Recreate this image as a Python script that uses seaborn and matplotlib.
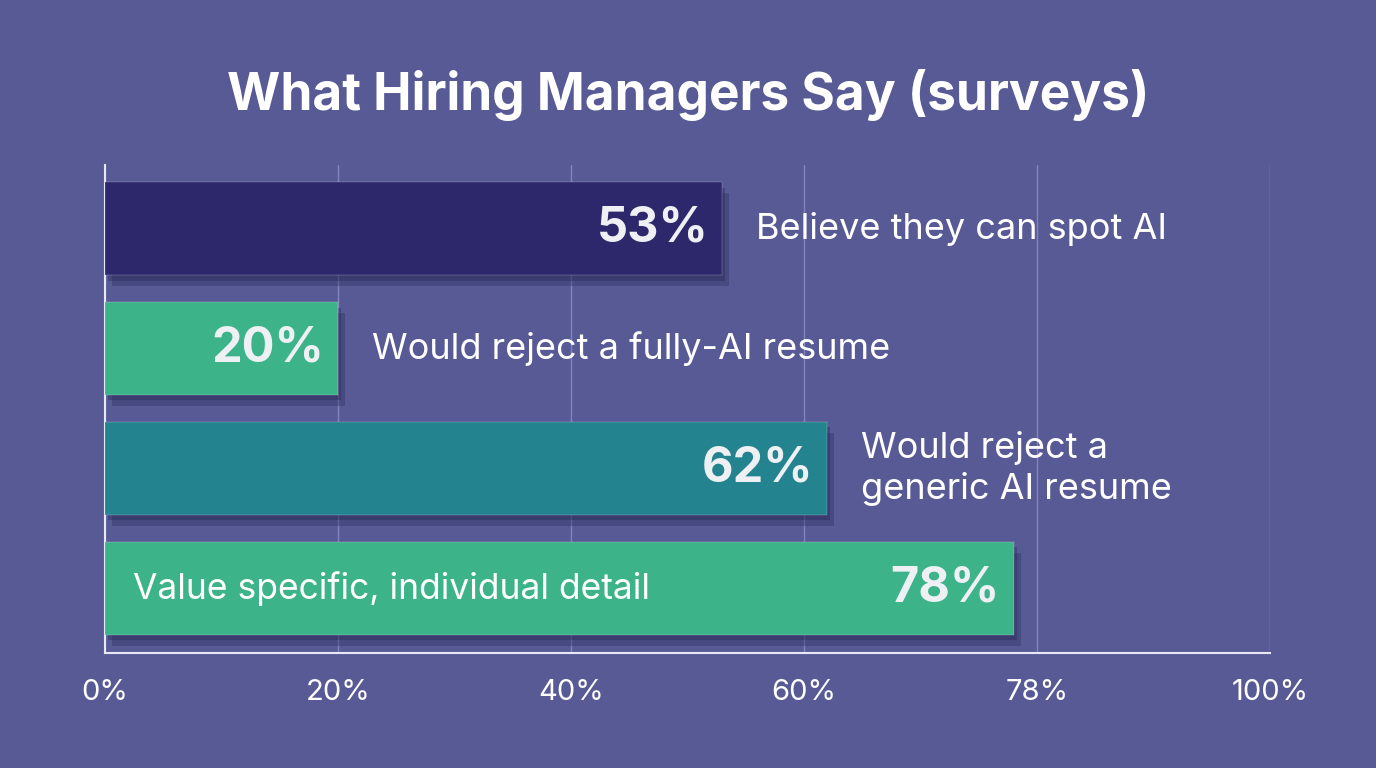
import matplotlib
matplotlib.use("Agg")
import matplotlib.pyplot as plt
import matplotlib.patheffects as pe
import pandas as pd
import seaborn as sns

labels = ["Believe they can spot AI", "Would reject a fully-AI resume",
          "Would reject a\ngeneric AI resume", "Value specific, individual detail"]
values = [53, 20, 62, 78]
bar_colors = ["#2d286b", "#3db38a", "#23848f", "#3db38a"]
tick_pos = [0, 20, 40, 60, 80, 100]
tick_labels = ["0%", "20%", "40%", "60%", "78%", "100%"]
inside = [False, False, False, True]

bg = "#575a95"
df = pd.DataFrame({"label": labels, "value": values})

sns.set_theme(style="white")
plt.rcParams["font.family"] = ["Inter", "DejaVu Sans"]

fig = plt.figure(figsize=(13.76, 7.68), dpi=100, facecolor=bg)
ax = fig.add_axes([0.0763, 0.1497, 0.8467, 0.6355])
ax.set_facecolor(bg)

sns.barplot(data=df, x="value", y="label", hue="label", palette=bar_colors,
            legend=False, width=0.775, ax=ax, saturation=1, zorder=3)

# soft drop shadow under each bar
for bar in ax.patches:
    bar.set_path_effects([pe.SimplePatchShadow(offset=(5, -8), shadow_rgbFace="#2a2a5c", alpha=0.35),
                          pe.SimplePatchShadow(offset=(2, -4), shadow_rgbFace="#23234f", alpha=0.35),
                          pe.Normal()])
    bar.set_edgecolor((1, 1, 1, 0.12))
    bar.set_linewidth(1.2)

ax.set_xlim(0, 100)
ax.set_ylim(3.54, -0.53)
ax.set_xticks(tick_pos)
ax.set_xticklabels(tick_labels)
ax.tick_params(axis="x", length=0, pad=19, labelsize=21, labelcolor="white")
ax.set_yticks([])
ax.set_xlabel("")
ax.set_ylabel("")
ax.grid(axis="x", color="#8c8ec4", linewidth=1, alpha=0.8, zorder=0)
for s in ["top", "right"]:
    ax.spines[s].set_visible(False)
for s in ["left", "bottom"]:
    ax.spines[s].set_color("#e8e8f4")
    ax.spines[s].set_linewidth(1.5)

for i, (lab, v) in enumerate(zip(labels, values)):
    ax.annotate(f"{v}%", xy=(v, i), xytext=(-14, 0), textcoords="offset pixels",
                ha="right", va="center", fontsize=35, fontweight="bold",
                color="#eef0f4", zorder=5)
    if inside[i]:
        ax.annotate(lab, xy=(0, i), xytext=(28, 0), textcoords="offset pixels",
                    ha="left", va="center", fontsize=25.5, color="white", zorder=5)
    else:
        ax.annotate(lab, xy=(v, i), xytext=(34, 0), textcoords="offset pixels",
                    ha="left", va="center", fontsize=26, color="white", zorder=5,
                    linespacing=1.25)

fig.text(0.5, 0.876, "What Hiring Managers Say (surveys)", ha="center", va="center",
         fontsize=37, fontweight="bold", color="white")

fig.savefig("out.png", dpi=100, facecolor=bg)
